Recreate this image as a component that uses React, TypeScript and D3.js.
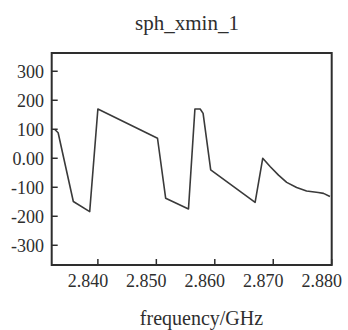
import React from "react";
import * as d3 from "d3";

const freq = [2.8326, 2.8332, 2.8358, 2.8386, 2.8400, 2.8502, 2.8516, 2.8555, 2.8566, 2.8575, 2.8580, 2.8593, 2.8669, 2.8682, 2.8695, 2.8709, 2.8723, 2.8740, 2.8757, 2.8777, 2.8786, 2.8797];
const values = [100, 88, -149, -184, 170, 69, -138, -175, 170, 170, 155, -40, -152, 0, -29, -58, -83, -101, -113, -118, -121, -132];
const xTicks = [2.84, 2.85, 2.86, 2.87, 2.88];
const xTickLabels = ["2.840", "2.850", "2.860", "2.870", "2.880"];
const yTicks = [300, 200, 100, 0, -100, -200, -300];
const yTickLabels = ["300", "200", "100", "0.00", "-100", "-200", "-300"];
const title = "sph_xmin_1";
const xTitle = "frequency/GHz";

const FONT = "'Liberation Serif', 'Times New Roman', serif";

export default function App() {
  const left = 51.7, right = 331.7, top = 53, bottom = 265;
  const x = d3.scaleLinear().domain([2.8321, 2.88]).range([left, right]);
  const y = d3.scaleLinear().domain([-368, 363]).range([bottom, top]);
  const pts = freq.map((f, i) => [f, values[i]] as [number, number]);
  const line = d3.line<[number, number]>().x(d => x(d[0])).y(d => y(d[1]));
  const ink = "#2e2e2e";
  return (
    <svg width={348} height={330} style={{ position: "absolute", left: 0, top: 0, background: "#fff" }}>
      <text x={187} y={30} textAnchor="middle" fontFamily={FONT} fontSize={21} fill={ink}>{title}</text>
      <path d={line(pts) || ""} fill="none" stroke="#3a3a3a" strokeWidth={1.6} strokeLinejoin="round" />
      <rect x={left} y={top} width={right - left} height={bottom - top} fill="none" stroke={ink} strokeWidth={2} />
      {yTicks.map((t, i) => (
        <g key={"y" + t}>
          <line x1={left} x2={left + 6} y1={y(t)} y2={y(t)} stroke={ink} strokeWidth={1.5} />
          <text x={44} y={y(t) + 1} textAnchor="end" dominantBaseline="central" fontFamily={FONT} fontSize={18} fill={ink}>{yTickLabels[i]}</text>
        </g>
      ))}
      {xTicks.map((t, i) => (
        <g key={"x" + t}>
          <line x1={x(t)} x2={x(t)} y1={bottom} y2={bottom - 6} stroke={ink} strokeWidth={1.5} />
          <text x={x(t) - 10} y={287} textAnchor="middle" fontFamily={FONT} fontSize={18} fill={ink}>{xTickLabels[i]}</text>
        </g>
      ))}
      <text x={201.5} y={325} textAnchor="middle" fontFamily={FONT} fontSize={20} fill={ink}>{xTitle}</text>
    </svg>
  );
}
